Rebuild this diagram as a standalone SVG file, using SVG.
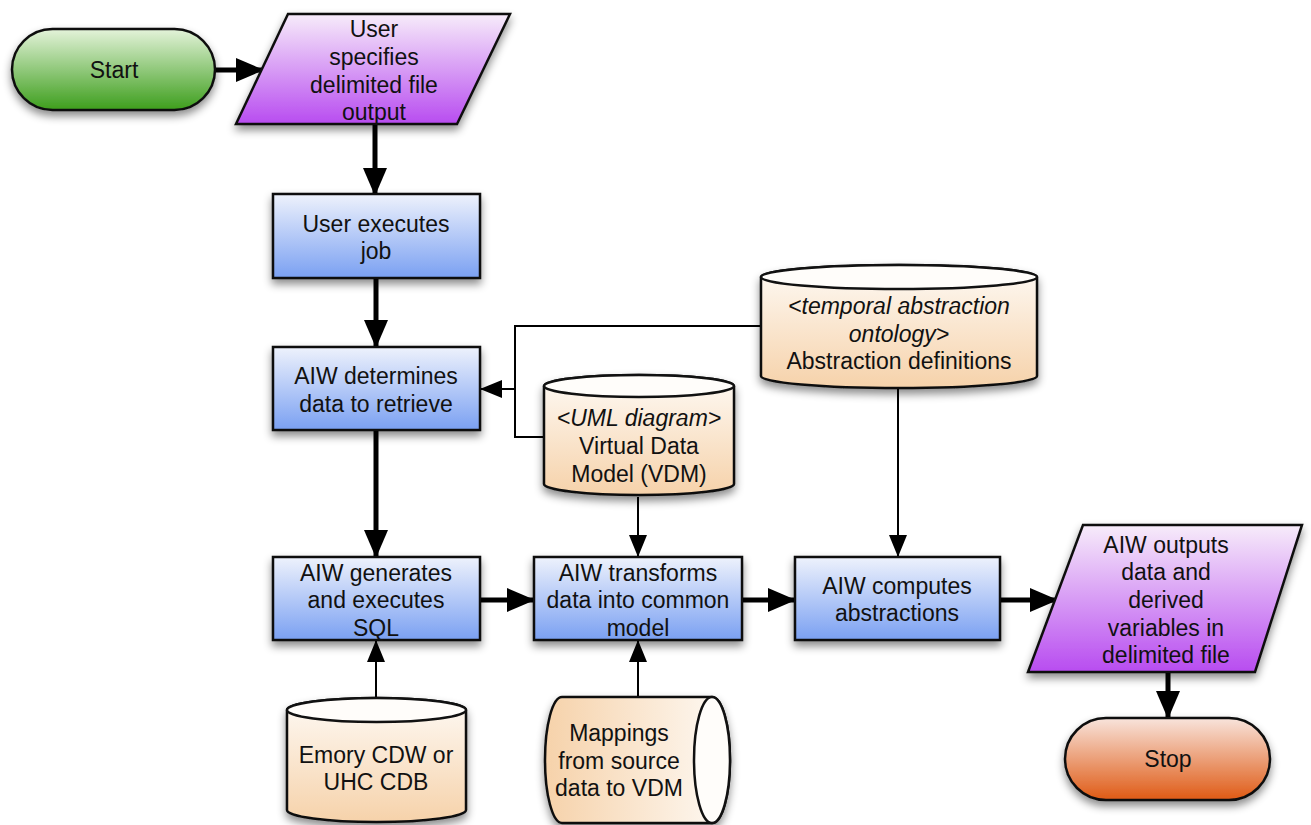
<svg xmlns="http://www.w3.org/2000/svg" width="1311" height="825" viewBox="0 0 1311 825">
<style>
text{font-family:"Liberation Sans",Arial,sans-serif;font-size:23px;fill:#111;text-anchor:middle}
.it{font-style:italic}
.sh{stroke:#111;stroke-width:2.5;filter:url(#ds)}
.thick{stroke:#000;stroke-width:5;fill:none;marker-end:url(#ah)}
.thin{stroke:#000;stroke-width:2;fill:none}
.thinA{stroke:#000;stroke-width:2;fill:none;marker-end:url(#ahs)}
</style>
<defs>
<filter id="ds" x="-20%" y="-20%" width="140%" height="150%"><feDropShadow dx="0" dy="5" stdDeviation="4" flood-color="#000" flood-opacity="0.45"/></filter>
<linearGradient id="gGreen" x1="0" y1="0" x2="0" y2="1"><stop offset="0" stop-color="#e4f3da"/><stop offset="1" stop-color="#3d9e1c"/></linearGradient>
<linearGradient id="gOrange" x1="0" y1="0" x2="0" y2="1"><stop offset="0" stop-color="#f8e4dc"/><stop offset="1" stop-color="#df5a14"/></linearGradient>
<linearGradient id="gBlue" x1="0" y1="0" x2="0" y2="1"><stop offset="0" stop-color="#eef2fc"/><stop offset="1" stop-color="#7aa0f2"/></linearGradient>
<linearGradient id="gPurple" x1="0" y1="0" x2="0" y2="1"><stop offset="0" stop-color="#f7ecfa"/><stop offset="1" stop-color="#b84cf0"/></linearGradient>
<linearGradient id="gTan" x1="0" y1="0" x2="0" y2="1"><stop offset="0" stop-color="#fefaf5"/><stop offset="1" stop-color="#f6d2aa"/></linearGradient>
<linearGradient id="gTanH" x1="1" y1="0" x2="0" y2="0"><stop offset="0" stop-color="#fefaf5"/><stop offset="1" stop-color="#f6d2aa"/></linearGradient>
<marker id="ah" markerUnits="userSpaceOnUse" viewBox="0 0 28 24" refX="26" refY="12" markerWidth="28" markerHeight="24" orient="auto"><path d="M0,0 L28,12 L0,24 Z" fill="#000"/></marker>
<marker id="ahs" markerUnits="userSpaceOnUse" viewBox="0 0 22 18" refX="21" refY="9" markerWidth="22" markerHeight="18" orient="auto"><path d="M0,0 L22,9 L0,18 Z" fill="#000"/></marker>
</defs>

<g id="connectors">
<line class="thick" x1="216" y1="70" x2="262" y2="70"/>
<line class="thick" x1="375" y1="124" x2="375" y2="194"/>
<line class="thick" x1="376" y1="278" x2="376" y2="346"/>
<line class="thick" x1="376" y1="431" x2="376" y2="556"/>
<line class="thick" x1="481" y1="600" x2="533" y2="600"/>
<line class="thick" x1="743" y1="600" x2="794" y2="600"/>
<line class="thick" x1="1001" y1="600" x2="1056" y2="600"/>
<line class="thick" x1="1168" y1="672" x2="1168" y2="717"/>
<polyline class="thin" points="761,326 515,326 515,437 544,437"/>
<line class="thinA" x1="515" y1="389" x2="481" y2="389"/>
<line class="thinA" x1="638" y1="497" x2="638" y2="556"/>
<line class="thinA" x1="898" y1="389" x2="898" y2="556"/>
<line class="thinA" x1="376" y1="698" x2="376" y2="641"/>
<line class="thinA" x1="638" y1="697" x2="638" y2="641"/>
</g>

<g id="start">
<rect class="sh" x="12" y="29" width="203" height="81" rx="40.5" fill="url(#gGreen)"/>
<text x="114" y="78">Start</text>
</g>

<g id="user-specifies">
<polygon class="sh" points="288,14 510,14 457,124 236,124" fill="url(#gPurple)"/>
<text x="374" y="37">User</text>
<text x="374" y="65">specifies</text>
<text x="374" y="93">delimited file</text>
<text x="374" y="120">output</text>
</g>

<g id="user-executes">
<rect class="sh" x="273" y="194" width="207" height="84" fill="url(#gBlue)"/>
<text x="376" y="232">User executes</text>
<text x="376" y="259">job</text>
</g>

<g id="aiw-determines">
<rect class="sh" x="273" y="347" width="207" height="83" fill="url(#gBlue)"/>
<text x="376" y="384">AIW determines</text>
<text x="376" y="412">data to retrieve</text>
</g>

<g id="vdm">
<path class="sh" d="M544,386 A95,11 0 0 1 734,386 V484 A95,11 0 0 1 544,484 Z" fill="url(#gTan)"/>
<ellipse cx="639" cy="386" rx="95" ry="11" fill="#fffdfa" stroke="#111" stroke-width="2.5"/>
<text class="it" x="639" y="426">&lt;UML diagram&gt;</text>
<text x="639" y="454">Virtual Data</text>
<text x="639" y="482">Model (VDM)</text>
</g>

<g id="abstraction-defs">
<path class="sh" d="M761,277 A138,12 0 0 1 1037,277 V376 A138,12 0 0 1 761,376 Z" fill="url(#gTan)"/>
<ellipse cx="899" cy="277" rx="138" ry="12" fill="#fffdfa" stroke="#111" stroke-width="2.5"/>
<text class="it" x="899" y="314">&lt;temporal abstraction</text>
<text class="it" x="899" y="342">ontology&gt;</text>
<text x="899" y="369">Abstraction definitions</text>
</g>

<g id="aiw-generates">
<rect class="sh" x="273" y="557" width="207" height="83" fill="url(#gBlue)"/>
<text x="376" y="581">AIW generates</text>
<text x="376" y="608">and executes</text>
<text x="376" y="636">SQL</text>
</g>

<g id="aiw-transforms">
<rect class="sh" x="534" y="557" width="208" height="83" fill="url(#gBlue)"/>
<text x="638" y="581">AIW transforms</text>
<text x="638" y="608">data into common</text>
<text x="638" y="636">model</text>
</g>

<g id="aiw-computes">
<rect class="sh" x="795" y="557" width="205" height="83" fill="url(#gBlue)"/>
<text x="897" y="594">AIW computes</text>
<text x="897" y="621">abstractions</text>
</g>

<g id="aiw-outputs">
<polygon class="sh" points="1083,525 1302,525 1255,672 1028,672" fill="url(#gPurple)"/>
<text x="1166" y="553">AIW outputs</text>
<text x="1166" y="580">data and</text>
<text x="1166" y="608">derived</text>
<text x="1166" y="636">variables in</text>
<text x="1166" y="663">delimited file</text>
</g>

<g id="stop">
<rect class="sh" x="1065" y="718" width="205" height="82" rx="41" fill="url(#gOrange)"/>
<text x="1168" y="767">Stop</text>
</g>

<g id="emory-cdw">
<path class="sh" d="M287,710 A89.5,12 0 0 1 466,710 V810 A89.5,12 0 0 1 287,810 Z" fill="url(#gTan)"/>
<ellipse cx="376.5" cy="710" rx="89.5" ry="12" fill="#fffdfa" stroke="#111" stroke-width="2.5"/>
<text x="376" y="763">Emory CDW or</text>
<text x="376" y="790">UHC CDB</text>
</g>

<g id="mappings">
<path class="sh" d="M562,697 H712 A18,63 0 0 1 712,823 H562 A17,63 0 0 1 562,697 Z" fill="url(#gTanH)"/>
<ellipse cx="712" cy="760" rx="18" ry="63" fill="#fffdfa" stroke="#111" stroke-width="2.5"/>
<text x="619" y="741">Mappings</text>
<text x="619" y="769">from source</text>
<text x="619" y="796">data to VDM</text>
</g>
</svg>
